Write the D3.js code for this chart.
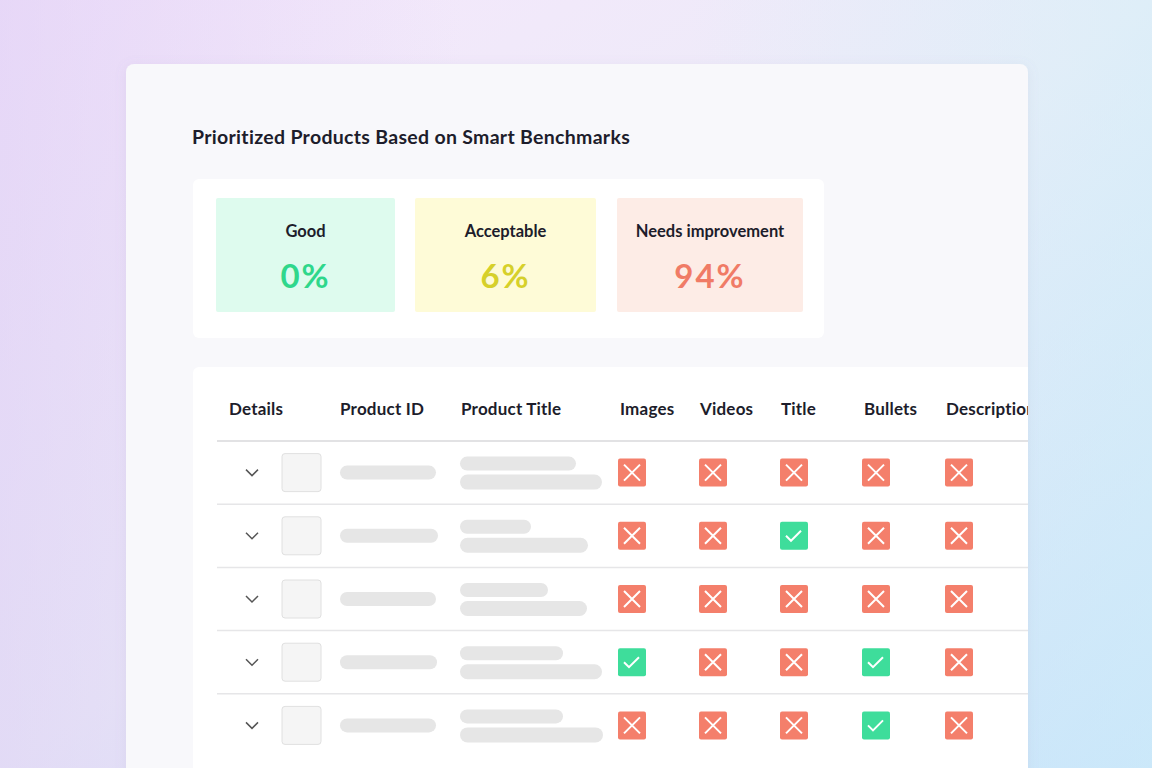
<!DOCTYPE html>
<html><head><meta charset="utf-8">
<script src="https://cdn.jsdelivr.net/npm/d3@7"></script>
<style>html,body{margin:0;padding:0;overflow:hidden}</style>
</head><body><svg id="c" width="1152" height="768"></svg>
<script>
const title = "Prioritized Products Based on Smart Benchmarks";
const summaryLabels = ["Good", "Acceptable", "Needs improvement"];
const summaryValues = [0, 6, 94];
const columns = ["Details", "Product ID", "Product Title", "Images", "Videos", "Title", "Bullets", "Description"];
const checkColumns = ["Images", "Videos", "Title", "Bullets", "Description"];
const rowStatus = [
  [0,0,0,0,0],
  [0,0,1,0,0],
  [0,0,0,0,0],
  [1,0,0,1,0],
  [0,0,0,1,0]
];
const idPillWidth = [96, 98, 96, 97, 96];
const titleTopWidth = [116, 71, 88, 103, 103];
const titleBottomWidth = [142, 128, 127, 142, 143];

const svg = d3.select("#c");
const F = "Lato, 'Noto Sans', sans-serif";
const defs = svg.append("defs");
const g1 = defs.append("linearGradient").attr("id","bg").attr("x1","0").attr("y1","0").attr("x2","1").attr("y2","1");
g1.append("stop").attr("offset","0").attr("stop-color","#f6e6fc");
g1.append("stop").attr("offset","0.5").attr("stop-color","#ececf8");
g1.append("stop").attr("offset","1").attr("stop-color","#c6e0fb");
svg.append("rect").attr("width",1152).attr("height",768).attr("fill","url(#bg)");
const g2 = defs.append("linearGradient").attr("id","bg2").attr("x1","0").attr("y1","0").attr("x2","1").attr("y2","0");
g2.append("stop").attr("offset","0").attr("stop-color","#d8c9f3").attr("stop-opacity",0.5);
g2.append("stop").attr("offset","0.4").attr("stop-color","#d8c9f3").attr("stop-opacity",0);
g2.append("stop").attr("offset","0.6").attr("stop-color","#d0f0f8").attr("stop-opacity",0);
g2.append("stop").attr("offset","1").attr("stop-color","#d0f0f8").attr("stop-opacity",0.5);
svg.append("rect").attr("width",1152).attr("height",768).attr("fill","url(#bg2)");
const sh = defs.append("filter").attr("id","sh").attr("x","-10%").attr("y","-10%").attr("width","120%").attr("height","120%");
sh.append("feDropShadow").attr("dx",0).attr("dy",2).attr("stdDeviation",6).attr("flood-color","#8a80b0").attr("flood-opacity",0.12);

svg.append("rect").attr("x",126).attr("y",64).attr("width",902).attr("height",740).attr("rx",8)
  .attr("fill","#f8f8fb").attr("filter","url(#sh)");
svg.append("text").attr("x",192).attr("y",144).text(title).attr("font-family",F)
  .attr("font-size",19.5).attr("font-weight",700).attr("fill","#1d1d2b").attr("letter-spacing",0.3);

// summary card
svg.append("rect").attr("x",193).attr("y",179).attr("width",631).attr("height",159).attr("rx",6).attr("fill","#fff");
const boxX = [216, 415, 617], boxW = [179, 181, 186];
const fills = ["#defbee", "#fefbd7", "#fdece6"], colors = ["#2fd78b", "#d6d02a", "#f07b66"];
summaryLabels.forEach((l,i)=>{
  svg.append("rect").attr("x",boxX[i]).attr("y",198).attr("width",boxW[i]).attr("height",114).attr("rx",2).attr("fill",fills[i]);
  svg.append("text").attr("x",boxX[i]+boxW[i]/2).attr("y",237).attr("text-anchor","middle").text(l)
    .attr("font-family",F).attr("font-size",16.5).attr("font-weight",700).attr("fill","#1d1d2b");
  svg.append("text").attr("x",boxX[i]+boxW[i]/2).attr("y",288).attr("text-anchor","middle").text(summaryValues[i]+"%")
    .attr("font-family",F).attr("font-size",33).attr("font-weight",700).attr("fill",colors[i]).attr("letter-spacing",2);
});

// table card
const clip = defs.append("clipPath").attr("id","clip");
clip.append("rect").attr("x",126).attr("y",0).attr("width",902).attr("height",768);
const t = svg.append("g").attr("clip-path","url(#clip)");
t.append("rect").attr("x",193).attr("y",367).attr("width",900).attr("height",460).attr("rx",6).attr("fill","#fff");
const colX = [229, 340, 461, 620, 700, 781, 864, 946];
columns.forEach((c,i)=>t.append("text").attr("x",colX[i]).attr("y",415).text(c)
  .attr("font-family",F).attr("font-size",17).attr("font-weight",700).attr("fill","#1d1d2b").attr("letter-spacing",0.2));
t.append("line").attr("x1",217).attr("x2",1030).attr("y1",441).attr("y2",441).attr("stroke","#e2e2e4").attr("stroke-width",2);

const y = d3.scaleBand().domain(d3.range(rowStatus.length)).range([441, 757]);
const iconX = d3.scaleOrdinal().domain(checkColumns).range([632, 713, 794, 876, 959]);
rowStatus.forEach((row, r)=>{
  const cy = y(r) + y.bandwidth()/2;
  if (r>0) t.append("line").attr("x1",217).attr("x2",1030).attr("y1",y(r)).attr("y2",y(r)).attr("stroke","#e6e6e8").attr("stroke-width",1.5);
  t.append("path").attr("d",`M${246},${cy-3} l6,6 l6,-6`).attr("fill","none").attr("stroke","#555").attr("stroke-width",1.5);
  t.append("rect").attr("x",282).attr("y",cy-19).attr("width",39).attr("height",38).attr("rx",3).attr("fill","#f5f5f5").attr("stroke","#e0e0e0");
  t.append("rect").attr("x",340).attr("y",cy-7).attr("width",idPillWidth[r]).attr("height",14).attr("rx",7).attr("fill","#e6e6e6");
  t.append("rect").attr("x",460).attr("y",cy-16).attr("width",titleTopWidth[r]).attr("height",14).attr("rx",7).attr("fill","#e6e6e6");
  t.append("rect").attr("x",460).attr("y",cy+2).attr("width",titleBottomWidth[r]).attr("height",15).attr("rx",7.5).attr("fill","#e6e6e6");
  row.forEach((s, k)=>{
    const cx = iconX(checkColumns[k]);
    t.append("rect").attr("x",cx-14).attr("y",cy-14).attr("width",28).attr("height",28).attr("rx",2)
      .attr("fill", s ? "#3edd9b" : "#f47f6b");
    if (s) t.append("path").attr("d",`M${cx-8},${cy} l5,5 l10,-10`).attr("fill","none").attr("stroke","#fff").attr("stroke-width",2);
    else t.append("path").attr("d",`M${cx-8},${cy-8} L${cx+8},${cy+8} M${cx+8},${cy-8} L${cx-8},${cy+8}`).attr("stroke","#fff").attr("stroke-width",2);
  });
});
</script></body></html>
